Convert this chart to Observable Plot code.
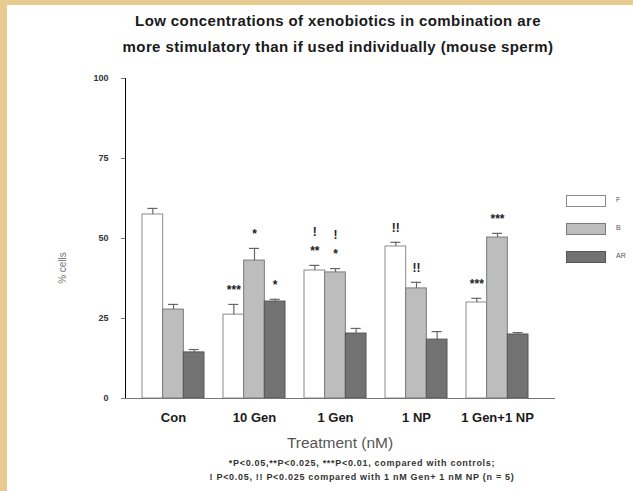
<!DOCTYPE html>
<html>
<head>
<meta charset="utf-8">
<script src="https://cdn.jsdelivr.net/npm/d3@7"></script>
<script src="https://cdn.jsdelivr.net/npm/@observablehq/plot@0.6"></script>
<style>
  html, body { margin: 0; padding: 0; }
  body { width: 633px; height: 491px; background: #e8cb8f; position: relative; overflow: hidden; font-family: "Liberation Sans", Arial, sans-serif; }
  #page { position: absolute; left: 7px; top: 5px; width: 626px; height: 486px; background: #ffffff; }
  .abs { position: absolute; }
  #title { left: 18px; top: 8px; width: 640px; text-align: center; font-weight: bold; font-size: 15px; letter-spacing: 0.4px; line-height: 26px; color: #1a1a1a; }
  #chart { left: 0; top: 60px; }
  #ylabel { left: 62px; top: 268px; transform: translate(-50%, -50%) rotate(-90deg); font-size: 10px; color: #777; white-space: nowrap; }
  #xlabel { left: 240px; top: 434px; width: 200px; text-align: center; font-size: 15.5px; color: #555; }
  #caption { left: 112px; top: 456px; width: 500px; text-align: center; font-size: 9px; letter-spacing: 0.7px; font-weight: bold; line-height: 14px; color: #333; }
  .leg { position: absolute; width: 38px; height: 10px; border: 1px solid #888; }
  .legt { position: absolute; font-size: 7px; color: #555; }
</style>
</head>
<body>
<div id="page"></div>
<div id="title" class="abs">Low concentrations of xenobiotics in combination are<br>more stimulatory than if used individually (mouse sperm)</div>
<div id="chart" class="abs"></div>
<div id="ylabel" class="abs">% cells</div>
<div id="xlabel" class="abs">Treatment (nM)</div>
<div id="caption" class="abs">*P&lt;0.05,**P&lt;0.025, ***P&lt;0.01, compared with controls;<br>! P&lt;0.05, !! P&lt;0.025 compared with 1 nM Gen+ 1 nM NP (n = 5)</div>
<div id="legend"></div>
<script>
// ---- data ----
const categories = ["Con", "10 Gen", "1 Gen", "1 NP", "1 Gen+1 NP"];
const seriesNames = ["F", "B", "AR"];
const F  = [57.5, 26.2, 40.0, 47.5, 30.0];
const Ferr = [1.9, 3.2, 1.6, 1.3, 1.3];
const B  = [27.8, 43.1, 39.4, 34.4, 50.3];
const Berr = [1.6, 3.8, 1.2, 1.9, 1.3];
const AR = [14.4, 30.3, 20.3, 18.4, 20.0];
const ARerr = [0.9, 0.7, 1.6, 2.5, 0.6];
// significance marks (row 1 = just above error bar, row 2 = above that)
const Fmark1  = ["", "***", "**", "!!", "***"];
const Bmark1  = ["", "*", "*", "!!", "***"];
const ARmark1 = ["", "*", "", "", ""];
const Fmark2  = ["", "", "!", "", ""];
const Bmark2  = ["", "", "!", "", ""];
const ARmark2 = ["", "", "", "", ""];
const yTicks = [0, 25, 50, 75, 100];

const values = [F, B, AR], errs = [Ferr, Berr, ARerr];
const marks1 = [Fmark1, Bmark1, ARmark1], marks2 = [Fmark2, Bmark2, ARmark2];
const fills = ["#ffffff", "#bdbdbd", "#727272"];
const strokes = ["#8a8a8a", "#7a7a7a", "#555555"];

const table = [];
seriesNames.forEach((s, i) => categories.forEach((c, j) => table.push({
  cat: c, series: s, si: i, value: values[i][j], top: values[i][j] + errs[i][j],
  m1: marks1[i][j], m2: marks2[i][j]
})));

// ---- layout ----
const W = 633, H = 380, mL = 125, mR = 78, mT = 18, mB = 42;
const xR = [125, 545], pIn = 0.235, pOut = 0.21;
const step = (xR[1] - xR[0]) / (categories.length - pIn + 2 * pOut);
const bw = step * (1 - pIn), barW = bw / 3, capHalf = 5;

const marks = [];
seriesNames.forEach((s, i) => {
  const d = table.filter(r => r.si === i);
  const off = (i - 1) * barW;
  marks.push(Plot.barY(d, {x: "cat", y: "value", fill: fills[i], stroke: strokes[i], strokeWidth: 1,
    insetLeft: i * barW, insetRight: (2 - i) * barW}));
  marks.push(Plot.ruleX(d, {x: "cat", y1: "value", y2: "top", dx: off, stroke: "#666", strokeWidth: 1.2}));
  marks.push(Plot.tickY(d, {x: "cat", y: "top", stroke: "#666", strokeWidth: 1.2,
    insetLeft: i * barW + barW / 2 - capHalf, insetRight: bw - (i * barW + barW / 2 + capHalf)}));
  marks.push(Plot.text(d, {x: "cat", y: "top", text: "m1", dx: off, dy: -14, fontSize: 12, fontWeight: "bold", fill: "#222"}));
  marks.push(Plot.text(d, {x: "cat", y: "top", text: "m2", dx: off, dy: -33, fontSize: 12, fontWeight: "bold", fill: "#222"}));
});
marks.push(Plot.ruleY([0], {stroke: "#777", strokeWidth: 1}));

const chart = Plot.plot({
  width: W, height: H,
  marginLeft: mL, marginRight: mR, marginTop: mT, marginBottom: mB,
  style: {background: "transparent", fontFamily: "Liberation Sans, Arial, sans-serif"},
  x: {domain: categories, range: xR, paddingInner: pIn, paddingOuter: pOut, label: null,
      tickSize: 0, tickPadding: 14},
  y: {domain: [0, 100], ticks: yTicks, tickSize: 4, tickPadding: 13, label: null, line: true},
  marks
});
chart.querySelectorAll("[aria-label='x-axis tick label'] text, [aria-label='x-axis'] text").forEach(t => {
  t.setAttribute("font-size", "13"); t.setAttribute("font-weight", "bold"); t.setAttribute("fill", "#1a1a1a");
});
chart.querySelectorAll("[aria-label='y-axis tick label'] text, [aria-label='y-axis'] text").forEach(t => {
  t.setAttribute("font-size", "9"); t.setAttribute("font-weight", "bold"); t.setAttribute("fill", "#333");
});
chart.querySelectorAll("[aria-label='y-axis'] path, [aria-label='y-axis tick'] path, [aria-label='y-axis'] line").forEach(p => {
  p.setAttribute("stroke", "#777");
});
document.getElementById("chart").appendChild(chart);

// legend (HTML)
const legend = document.getElementById("legend");
const legTops = [195, 223, 251];
seriesNames.forEach((s, i) => {
  const r = document.createElement("div");
  r.className = "leg";
  r.style.left = "566px"; r.style.top = legTops[i] + "px";
  r.style.background = fills[i]; r.style.borderColor = strokes[i];
  legend.appendChild(r);
  const t = document.createElement("div");
  t.className = "legt"; t.textContent = s;
  t.style.left = "616px"; t.style.top = (legTops[i] + 1) + "px";
  legend.appendChild(t);
});
</script>
</body>
</html>
